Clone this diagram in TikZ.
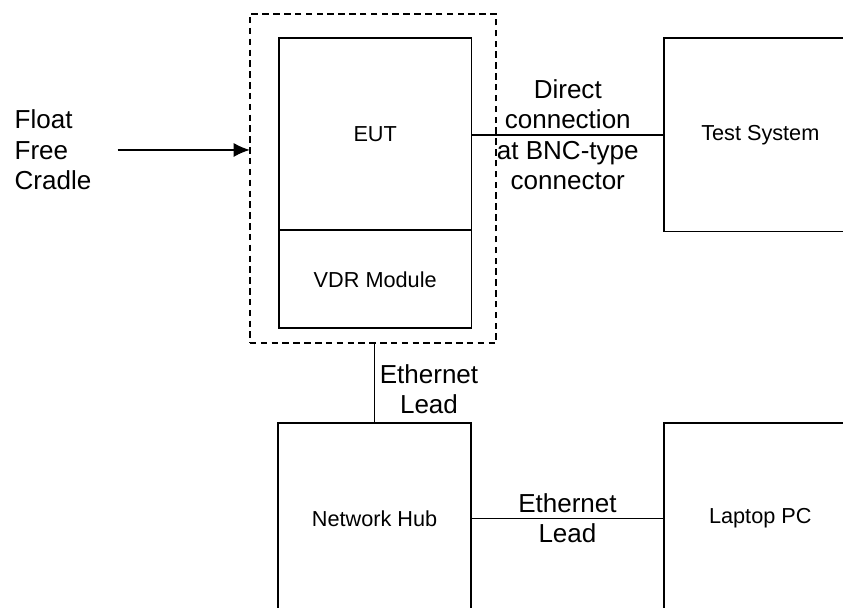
\documentclass[tikz,border=0pt]{standalone}
\usepackage{fontspec}
\setmainfont{Liberation Sans}
\usetikzlibrary{positioning,calc,arrows.meta}
\tikzset{
  unit/.style={draw, line width=0.8pt, inner sep=0pt, outer sep=0pt, minimum width=3.12cm, font=\normalsize},
  frame/.style={draw, line width=0.8pt, dash pattern=on 3pt off 2pt, inner sep=0pt, outer sep=0pt},
  lead/.style={draw=none, inner sep=0pt, align=center, font=\large},
  link/.style={black, line width=0.8pt},
  feed/.style={black, line width=0.8pt, -{Latex[length=7.5pt,width=6.5pt]}}
}

\begin{document}
\begin{tikzpicture}
\useasboundingbox (0,0) rectangle (13.66,9.84);

\node[unit, minimum height=3.11cm](eut) at (6.08,7.665) {EUT};

\node[unit, minimum height=1.59cm, below=0pt of eut](vdr) {VDR Module};

\node[frame, minimum width=3.99cm, minimum height=5.33cm](cradle) at (6.045,6.945) {};

\node[unit, minimum height=3.13cm](test) at (12.32,7.655) {Test System};

\node[unit, minimum height=3.08cm](hub) at (6.07,1.44) {Network Hub};

\node[unit, minimum height=3.08cm](laptop) at (12.32,1.44) {Laptop PC};

\node[lead, align=left, anchor=west](float) at (0.23,7.41)
{Float\\Free\\Cradle};

\draw[feed] ([xshift=0.42cm]float.east) -- (float -| cradle.west);

\draw[link] (eut.east |- test) -- node[lead]
{Direct\\connection\\at BNC-type\\connector} (test.west);

\draw[link] (hub.north |- cradle.south) -- node[lead, anchor=west, xshift=2pt, yshift=-0.1cm]
{Ethernet\\Lead} (hub.north);

\draw[link] (hub.east) -- node[lead] {Ethernet\\Lead} (laptop.west);
\end{tikzpicture}
\end{document}
